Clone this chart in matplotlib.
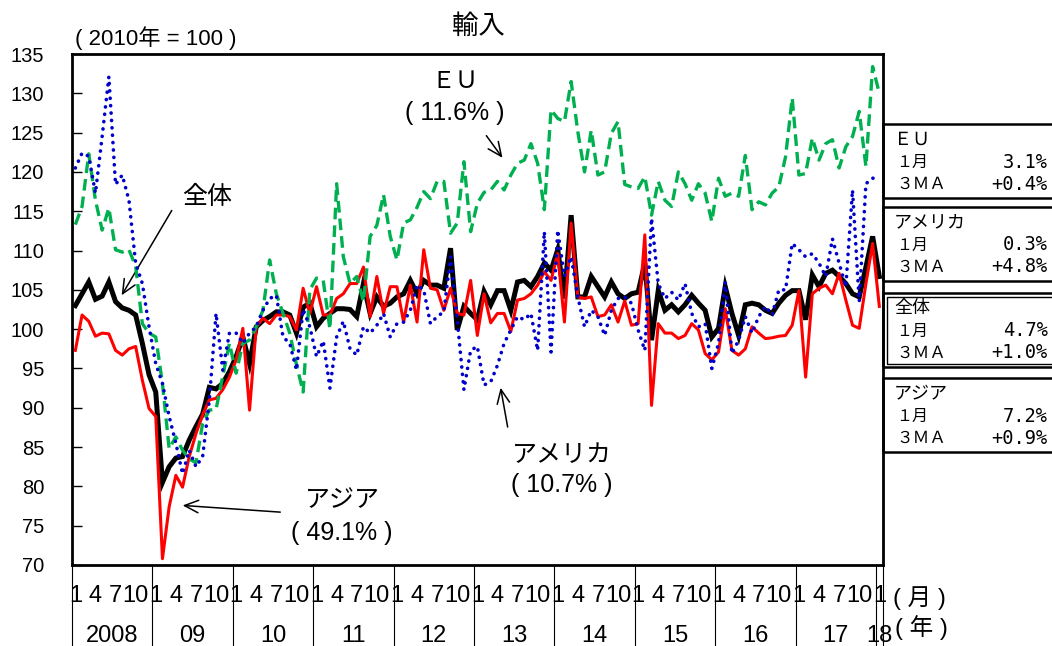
import numpy as np
import matplotlib
matplotlib.use("Agg")
import matplotlib.pyplot as plt
from matplotlib.patches import Rectangle

plt.rcParams['font.family'] = ['Liberation Sans', 'Noto Sans CJK JP', 'DejaVu Sans']

# monthly index, 2008/01 .. 2018/01 (121 months)
total = [103.0, 104.5, 106.0, 103.8, 104.2, 106.0, 103.5, 102.7, 102.4, 101.8,
         98.2, 94.2, 92.0, 80.5, 82.5, 83.6, 83.8, 85.9, 87.6, 89.2,
         92.6, 92.4, 93.1, 94.6, 96.5, 99.0, 95.6, 100.3, 101.1, 101.6,
         102.2, 102.2, 101.8, 99.5, 102.8, 103.3, 100.3, 101.4, 102.0, 102.6,
         102.6, 102.5, 101.6, 105.8, 102.0, 104.1, 102.9, 103.3, 104.1, 104.5,
         106.2, 104.5, 106.2, 105.6, 105.6, 105.2, 110.3, 99.9, 102.9, 102.0,
         101.2, 104.8, 103.1, 104.9, 104.9, 102.4, 106.0, 106.2, 105.4, 106.7,
         108.4, 107.5, 110.1, 103.9, 114.5, 104.1, 104.1, 106.7, 105.4, 104.1,
         106.0, 104.5, 103.9, 104.5, 104.7, 108.4, 98.6, 104.9, 102.4, 103.1,
         102.2, 103.1, 104.3, 103.3, 102.4, 99.0, 100.1, 105.4, 102.0, 99.2,
         103.1, 103.3, 103.1, 102.4, 102.0, 103.3, 104.3, 104.9, 104.9, 101.2,
         106.9, 105.4, 107.1, 107.5, 106.7, 105.8, 104.5, 104.1, 107.9, 111.8,
         106.7]
asia = [97.3, 101.8, 101.0, 99.1, 99.5, 99.4, 97.3, 96.7, 97.5, 97.8,
        93.5, 89.9, 88.9, 70.8, 77.4, 81.4, 79.9, 83.8, 86.7, 89.1,
        91.0, 91.2, 92.3, 93.9, 96.1, 100.1, 89.7, 100.3, 101.4, 100.7,
        101.8, 101.8, 101.6, 99.9, 105.2, 102.0, 105.4, 101.8, 101.8, 103.9,
        104.5, 105.8, 105.8, 107.9, 101.6, 106.7, 102.0, 105.4, 105.4, 100.9,
        105.6, 100.9, 110.1, 105.2, 105.0, 102.4, 105.2, 102.0, 101.8, 106.2,
        99.2, 104.5, 100.8, 102.0, 102.0, 99.7, 103.7, 103.9, 104.5, 105.6,
        107.3, 106.2, 109.6, 100.9, 113.5, 104.1, 103.9, 104.1, 101.6, 101.8,
        103.1, 100.9, 103.6, 100.5, 100.7, 112.0, 90.3, 100.7, 99.5, 99.5,
        98.8, 99.2, 100.7, 99.9, 96.9, 96.1, 97.1, 102.6, 97.3, 96.7,
        97.5, 100.3, 99.5, 98.8, 98.9, 99.1, 99.2, 100.5, 104.9, 93.9,
        104.5, 105.2, 105.6, 104.5, 107.1, 103.7, 100.5, 100.1, 105.8, 110.9,
        102.9]
eu = [113.3, 115.6, 122.3, 116.4, 112.6, 115.4, 110.1, 109.8, 110.1, 108.0,
      100.7, 99.5, 99.0, 93.1, 84.8, 86.3, 84.6, 83.5, 83.0, 88.0,
      89.7, 89.8, 94.0, 98.2, 94.4, 98.2, 98.6, 100.3, 102.4, 108.8,
      104.5, 102.0, 99.5, 95.5, 92.0, 105.0, 106.5, 106.2, 100.0, 118.5,
      109.2, 105.8, 106.7, 103.5, 111.8, 113.2, 117.1, 111.8, 108.8, 113.5,
      113.9, 115.5, 117.5, 116.6, 118.8, 118.8, 112.2, 113.5, 121.3, 112.4,
      116.0, 117.4, 117.7, 118.8, 117.7, 119.6, 121.1, 121.5, 123.6, 121.1,
      115.2, 127.9, 126.8, 126.4, 131.5, 125.1, 120.0, 125.3, 119.6, 120.0,
      124.9, 126.4, 118.4, 118.1, 117.9, 119.4, 114.5, 118.8, 116.4, 115.6,
      120.0, 118.5, 116.4, 118.5, 117.3, 113.7, 119.2, 116.9, 117.3, 116.9,
      122.1, 115.2, 116.2, 115.8, 117.3, 118.1, 121.9, 129.4, 119.6, 119.8,
      124.3, 121.5, 123.6, 124.1, 120.5, 123.2, 124.5, 127.7, 120.7, 133.4,
      130.0]
usa = [120.5, 122.4, 122.0, 117.3, 124.5, 132.1, 118.4, 119.6, 116.4, 108.4,
       105.8, 100.3, 95.6, 93.1, 88.9, 85.5, 81.6, 84.6, 82.5, 83.8,
       91.0, 102.0, 94.8, 99.5, 99.5, 98.2, 99.5, 100.3, 102.4, 103.9,
       104.3, 99.0, 98.2, 94.8, 102.5, 100.3, 96.5, 98.5, 92.5, 99.0,
       101.0, 97.5, 96.7, 100.3, 99.5, 100.5, 102.0, 99.0, 100.7, 100.9,
       102.4, 105.6, 105.0, 100.7, 101.6, 102.2, 109.2, 101.2, 92.3, 97.3,
       97.8, 92.9, 93.3, 95.4, 98.2, 99.9, 101.6, 101.2, 102.0, 97.3,
       112.4, 97.1, 112.6, 106.7, 109.2, 104.1, 100.3, 102.4, 101.6, 99.2,
       102.4, 103.9, 104.1, 103.3, 99.9, 97.3, 114.1, 105.8, 103.9, 104.7,
       103.7, 105.8, 102.0, 100.3, 100.7, 95.0, 98.2, 106.0, 96.9, 98.6,
       101.6, 99.5, 101.6, 102.9, 101.8, 105.0, 105.0, 110.9, 110.1, 109.2,
       109.6, 108.4, 106.7, 111.5, 108.4, 105.4, 117.7, 103.5, 118.5, 119.2,
       119.2]

month_labels = ['1', '4', '7', '10']
year_labels = ['2008', '09', '10', '11', '12', '13', '14', '15', '16', '17']

boxes = [
    ('ＥＵ', '3.1%', '+0.4%'),
    ('アメリカ', '0.3%', '+4.8%'),
    ('全体', '4.7%', '+1.0%'),
    ('アジア', '7.2%', '+0.9%'),
]

W, H = 1052, 646
def fx(x):
    return x / W
def fy(y):
    return 1 - y / H

fig = plt.figure(figsize=(W / 100, H / 100), dpi=100)
ax = fig.add_axes([fx(72), fy(565), (883 - 72) / W, (565 - 54) / H])

x = np.arange(len(total))
ax.plot(x, total, color='black', lw=3.6, zorder=2, solid_joinstyle='miter')
ax.plot(x, asia, color='#ff0000', lw=2.2, zorder=3)
ax.plot(x, eu, color='#00b050', lw=2.4, ls=(0, (3.5, 1.8)), zorder=4)
ax.plot(x, usa, color='#0000cc', lw=2.6, ls=(0, (0.05, 2.0)),
        dash_capstyle='round', zorder=5)

ax.set_xlim(-0.5, 120.55)
ax.set_ylim(70, 135)
ax.set_yticks(np.arange(70, 136, 5))
ax.set_xticks([])
ax.tick_params(axis='y', direction='in', length=7, width=1, pad=20, labelsize=14.5)
for s in ax.spines.values():
    s.set_linewidth(2)

# category axis labels
tr = ax.get_xaxis_transform()
lab_kw = dict(transform=tr, ha='center', va='center', fontsize=17)
for k in range(10):
    for j, lab in enumerate(month_labels):
        ax.text(12 * k + 3 * j, -0.06, lab, **lab_kw)
    ax.text(12 * k + 5.5, -0.139, year_labels[k], **lab_kw)
ax.text(120, -0.06, '1', **lab_kw)
ax.text(120, -0.139, '18', **lab_kw)
for b in list(np.arange(-0.5, 120, 12)) + [120.55]:
    ax.plot([b, b], [0, -0.2], transform=tr, color='black', lw=0.8, clip_on=False)
fig.text(fx(893), fy(598), '( 月 )', ha='left', va='center', fontsize=17)
fig.text(fx(895), fy(628), '( 年 )', ha='left', va='center', fontsize=17)

# titles
fig.text(fx(478), fy(27), '輸入', ha='center', va='center', fontsize=19)
fig.text(fx(75), fy(38), '( 2010年 = 100 )', ha='left', va='center', fontsize=16)

# annotations
arrow = dict(arrowstyle='->,head_length=1.0,head_width=0.45', color='black', lw=1.1)
big = 18
ax.text(19.6, 116.8, '全体', ha='center', va='center', fontsize=big)
ax.annotate('', xy=(6.7, 104.0), xytext=(14.6, 115.4), arrowprops=arrow)
ax.text(56.7, 131.4, 'ＥＵ', ha='center', va='center', fontsize=17)
ax.text(56.7, 127.5, '( 11.6% )', ha='center', va='center', fontsize=big)
ax.annotate('', xy=(64.0, 121.5), xytext=(61.1, 124.9), arrowprops=arrow)
ax.text(72.6, 84.0, 'アメリカ', ha='center', va='center', fontsize=big)
ax.text(72.6, 80.2, '( 10.7% )', ha='center', va='center', fontsize=big)
ax.annotate('', xy=(63.4, 92.9), xytext=(64.6, 87.2), arrowprops=arrow)
ax.text(39.8, 78.3, 'アジア', ha='center', va='center', fontsize=big)
ax.text(39.8, 74.1, '( 49.1% )', ha='center', va='center', fontsize=big)
ax.annotate('', xy=(15.6, 77.6), xytext=(31.0, 76.7), arrowprops=arrow)

# side boxes
mono = ['DejaVu Sans Mono', 'Noto Sans CJK JP']
box_tops = [124, 207, 293, 378]
for (name, m1, ma3), top in zip(boxes, box_tops):
    bot = top + 74
    fig.patches.append(Rectangle((fx(883), fy(bot)), 0.2, (bot - top) / H,
                                 transform=fig.transFigure, fill=False,
                                 ec='black', lw=1.8, clip_on=False))
    if name == '全体':
        fig.patches.append(Rectangle((fx(887), fy(bot - 3)), 0.2, (bot - top - 7) / H,
                                     transform=fig.transFigure, fill=False,
                                     ec='black', lw=1.0, clip_on=False))
    fig.text(fx(894), fy(top + 16), name, ha='left', va='center', fontsize=13)
    fig.text(fx(896), fy(top + 38), '１月', ha='left', va='center', fontsize=11.5)
    fig.text(fx(896), fy(top + 60), '３ＭＡ', ha='left', va='center', fontsize=12)
    fig.text(fx(1048), fy(top + 38), m1, ha='right', va='center', fontsize=13.5, family=mono)
    fig.text(fx(1048), fy(top + 60), ma3, ha='right', va='center', fontsize=13.5, family=mono)

fig.savefig('out.png', dpi=100)
